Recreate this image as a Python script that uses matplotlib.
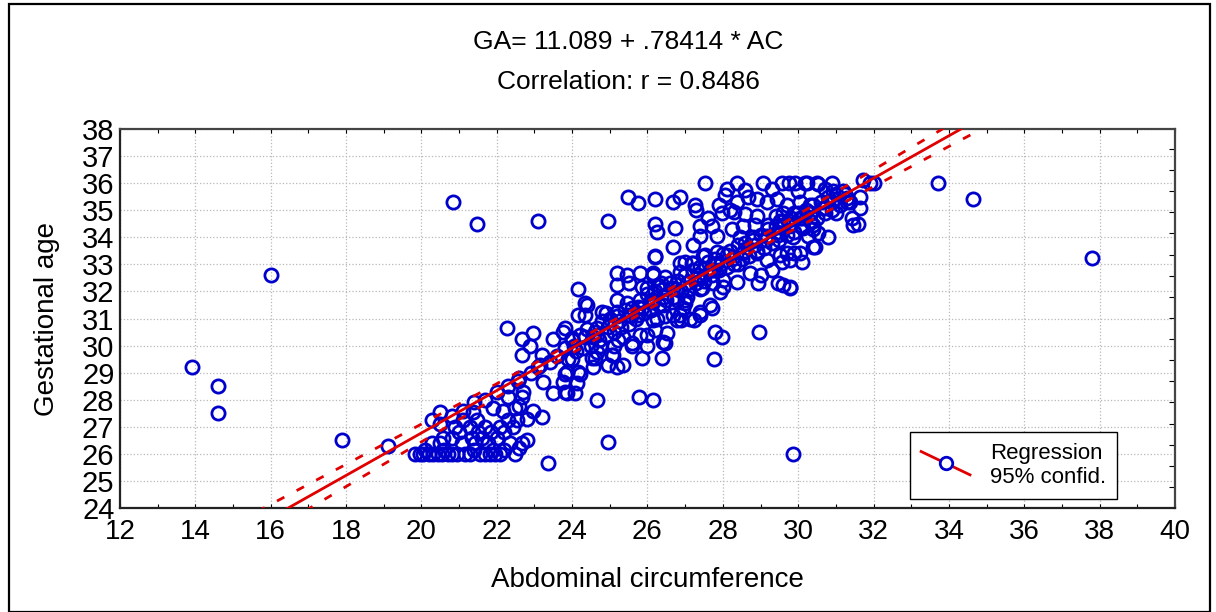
import numpy as np
import matplotlib
matplotlib.use("Agg")
import matplotlib.pyplot as plt
from matplotlib.lines import Line2D
from matplotlib.patches import Rectangle
from matplotlib.legend_handler import HandlerBase
from matplotlib.ticker import MultipleLocator, FixedLocator

plt.rcParams['font.family'] = ['Liberation Sans', 'DejaVu Sans']

# regression from the chart header
intercept = 11.089
slope = 0.78414
title_eq = "GA= 11.089 + .78414 * AC"
title_r = "Correlation: r = 0.8486"

# (AC, GA) pairs
outliers = [
    (13.9, 29.2), (14.6, 28.5), (14.6, 27.5), (16.0, 32.6), (17.9, 26.5), (19.1, 26.3),
    (20.84, 35.3), (21.47, 34.5), (23.1, 34.6), (24.95, 34.6),
    (33.7, 36.0), (34.64, 35.4), (37.8, 33.24), (29.86, 26.0), (23.36, 25.66), (24.95, 26.44),
    (28.96, 30.5), (24.66, 28.0), (25.77, 28.1), (26.15, 28.0), (27.77, 29.5), (27.8, 30.5),
    (27.97, 30.3),
]

low_cluster = [
    (19.83, 26.0), (19.95, 26.0), (20.04, 26.0), (20.2, 26.0), (20.31, 26.0), (20.45, 26.0),
    (20.55, 26.0), (20.7, 26.0), (20.81, 26.0), (20.95, 26.0), (21.16, 26.0), (21.3, 26.0),
    (21.55, 26.0), (21.68, 26.0), (21.82, 26.0), (21.95, 26.0), (22.08, 26.0), (22.48, 26.0),
    (20.1, 26.15), (20.6, 26.15), (21.4, 26.15), (21.9, 26.15), (22.2, 26.15), (22.6, 26.2),
    (20.28, 26.4), (20.49, 26.4), (21.08, 26.4), (21.42, 26.4), (21.77, 26.4), (22.35, 26.4),
    (22.67, 26.4), (22.8, 26.5),
    (20.57, 26.6), (20.81, 26.6), (21.34, 26.6), (21.61, 26.6), (22.0, 26.6),
    (21.0, 26.8), (21.5, 26.8), (21.85, 26.8), (22.2, 26.8),
    (20.89, 27.0), (21.29, 27.0), (21.69, 27.0), (22.08, 27.0), (22.43, 27.0),
    (20.28, 27.25), (21.1, 27.25), (21.47, 27.25), (22.3, 27.25), (22.8, 27.3), (22.53, 27.25),
    (20.49, 27.55), (21.37, 27.55), (22.16, 27.6), (22.48, 27.7), (22.96, 27.6), (23.2, 27.36),
    (21.9, 27.7), (22.6, 27.75), (22.3, 28.1), (22.67, 28.1), (22.7, 28.3), (22.56, 28.7),
]

mid_cluster = [
    (23.23, 28.65), (23.5, 28.25), (23.76, 28.65), (23.86, 29.02), (24.15, 29.02), (24.08, 28.25),
    (23.86, 28.25), (23.8, 28.3), (24.13, 28.6), (23.8, 28.95), (24.2, 28.95),
    (22.67, 30.24), (22.96, 30.46), (22.88, 30.0), (22.67, 29.65), (23.2, 29.65), (23.5, 30.24),
    (23.76, 30.5), (23.99, 30.28), (22.27, 30.65), (23.15, 29.3), (23.8, 30.65),
    (24.15, 32.1), (24.34, 31.57), (24.15, 31.13), (24.34, 31.13), (24.8, 31.24), (24.66, 30.65),
    (24.74, 30.0), (24.6, 29.54), (24.56, 29.2), (25.06, 29.65), (24.95, 29.28), (25.35, 29.28),
    (25.22, 30.2), (25.35, 30.3), (25.59, 30.0), (25.85, 29.54), (26.38, 29.54), (25.98, 30.0),
    (26.4, 30.13), (26.2, 30.58), (25.8, 30.4),
    (25.19, 32.68), (25.46, 32.6), (25.8, 32.68), (26.15, 32.68), (26.46, 32.53), (25.2, 32.24),
    (25.52, 32.3), (25.85, 32.16), (26.35, 32.3), (25.19, 31.68), (25.75, 31.42), (26.15, 31.68),
    (25.19, 31.24), (25.75, 31.13), (26.15, 30.95), (26.46, 31.1),
    (26.78, 31.68), (27.0, 31.68), (27.4, 32.1), (27.74, 32.3), (28.0, 32.16), (26.78, 30.95),
    (26.9, 30.95), (27.23, 30.95), (27.4, 31.13), (27.7, 31.4),
    (26.86, 33.05), (27.18, 33.05), (27.47, 33.3), (27.84, 33.05), (26.2, 33.27),
    (24.53, 29.54), (24.66, 29.76), (25.08, 29.65), (25.19, 29.2),
    (24.4, 31.5), (24.9, 31.2), (25.45, 31.57), (25.5, 31.13),
    (25.6, 30.1), (25.98, 30.39), (25.1, 30.0),
    (26.25, 31.0), (26.52, 30.46), (26.46, 30.1),
    (26.86, 31.13), (27.13, 31.0), (27.39, 31.24), (27.66, 31.5), (27.0, 31.57),
    (24.55, 30.3), (24.0, 29.5),
]

high_cluster = [
    (27.53, 36.0), (28.38, 36.0), (29.06, 36.0), (29.57, 36.0), (29.91, 36.0), (30.23, 36.0),
    (30.5, 36.0), (29.75, 36.0), (30.18, 36.0), (30.52, 35.95), (30.9, 36.0), (31.9, 36.0),
    (31.72, 36.1), (32.0, 36.0),
    (25.48, 35.5), (25.75, 35.27), (26.2, 35.4), (26.68, 35.3), (26.86, 35.5), (27.26, 35.2),
    (27.3, 35.0),
    (28.06, 35.55), (28.38, 35.3), (28.67, 35.5), (28.9, 35.4), (29.17, 35.3), (29.43, 35.4),
    (29.7, 35.2), (30.05, 35.3), (30.31, 35.2),
    (28.1, 35.8), (28.6, 35.75), (29.3, 35.8), (30.0, 35.7), (30.7, 35.8),
    (27.97, 34.9), (28.3, 34.95), (28.58, 34.85), (29.6, 34.9), (29.9, 34.9), (30.3, 34.9),
    (27.6, 34.7), (27.9, 35.2), (28.2, 35.0), (28.9, 34.8), (29.4, 34.8), (30.1, 34.7),
    (30.7, 35.1), (31.0, 34.9), (30.9, 35.3),
    (26.2, 34.5), (26.25, 34.2), (26.73, 34.35),
    (27.39, 34.4), (27.71, 34.4), (27.39, 34.05), (27.84, 34.05),
    (28.24, 34.3), (28.53, 34.4), (28.85, 34.45), (29.2, 34.45), (29.52, 34.6), (29.78, 34.5),
    (30.13, 34.35), (30.39, 34.3),
    (28.45, 34.0), (28.8, 33.9), (29.17, 34.05), (29.46, 34.1), (29.86, 34.0), (30.26, 34.05),
    (30.52, 34.15),
    (26.2, 33.3), (26.68, 33.64), (27.2, 33.7),
    (27.0, 33.09), (27.2, 33.05), (27.53, 33.35), (27.84, 33.46), (28.11, 33.35), (28.53, 33.42),
    (28.9, 33.42), (29.17, 33.16), (29.52, 33.35), (29.78, 33.16), (30.05, 33.42), (30.39, 33.64),
    (26.86, 32.72), (27.34, 32.6), (27.74, 32.8), (28.0, 32.42), (28.38, 32.34), (28.72, 32.68),
    (28.93, 32.3), (29.46, 32.3), (29.78, 32.16),
    (26.15, 32.6), (25.98, 32.12), (26.28, 32.24),
    (26.68, 32.12), (27.05, 31.8), (27.45, 32.12), (27.93, 31.98),
    (26.07, 31.6), (26.41, 31.5), (26.68, 31.13), (26.94, 31.4),
    (30.92, 35.7), (31.3, 35.45), (31.37, 35.3), (31.64, 35.1), (31.64, 35.5), (31.43, 34.7),
    (31.59, 34.5), (31.45, 34.45), (30.8, 34.0), (30.39, 34.45), (30.45, 33.64), (29.9, 33.42),
    (29.7, 33.42), (29.57, 33.09), (29.6, 32.24), (29.78, 32.12),
    (29.0, 32.6), (28.4, 33.0), (29.3, 32.8), (30.1, 33.1),
]

# markers stacked on top of the red line (mostly hidden under each other)
on_line = [
    (23.8, 29.9), (23.9, 29.5), (24.0, 30.2), (24.1, 29.8), (24.2, 30.4), (24.3, 29.9),
    (24.4, 30.6), (24.5, 30.0), (24.6, 30.5), (24.7, 30.2), (24.8, 30.9), (24.9, 30.4),
    (25.0, 31.0), (25.1, 30.5), (25.2, 31.1), (25.3, 30.7), (25.4, 31.3), (25.5, 30.8),
    (25.6, 31.4), (25.7, 31.0), (25.8, 31.7), (25.9, 31.2), (26.0, 31.9), (26.1, 31.3),
    (26.2, 32.0), (26.3, 31.5), (26.4, 32.1), (26.5, 31.7), (26.6, 32.3), (26.7, 31.8),
    (26.8, 32.4), (26.9, 32.0), (27.0, 32.6), (27.1, 32.1), (27.2, 32.8), (27.3, 32.3),
    (27.4, 32.9), (27.5, 32.4), (27.6, 33.1), (27.7, 32.6), (27.8, 33.2), (27.9, 32.8),
    (28.0, 33.4), (28.1, 32.9), (28.2, 33.5), (28.3, 33.0), (28.4, 33.7), (28.5, 33.2),
    (28.6, 33.8), (28.7, 33.3), (28.8, 34.0), (28.9, 33.5), (29.0, 34.1), (29.1, 33.6),
    (29.2, 34.3), (29.3, 33.8), (29.4, 34.4), (29.5, 33.9), (29.6, 34.6), (29.7, 34.1),
    (29.8, 34.7), (29.9, 34.2), (30.0, 34.9), (30.1, 34.4), (30.2, 35.0), (30.3, 34.6),
    (30.4, 35.2), (30.5, 34.7), (30.6, 35.3), (30.7, 34.9), (30.8, 35.5), (30.9, 35.0),
    (31.0, 35.6), (31.1, 35.2), (31.2, 35.7), (31.3, 35.3),
    (24.05, 30.0), (24.35, 30.3), (24.65, 30.4), (24.95, 30.7), (25.25, 30.9), (25.55, 31.1),
    (25.85, 31.4), (26.15, 31.6), (26.45, 31.8), (26.75, 32.1), (27.05, 32.3), (27.35, 32.5),
    (27.65, 32.8), (27.95, 33.0), (28.25, 33.2), (28.55, 33.5), (28.85, 33.7), (29.15, 33.9),
    (29.45, 34.2), (29.75, 34.4), (30.05, 34.7), (30.35, 34.9), (30.65, 35.1), (30.95, 35.4),
    (31.25, 35.6),
    (22.9, 29.0), (23.1, 29.2), (23.4, 29.4), (23.6, 29.6), (22.6, 28.8), (22.3, 28.5),
    (22.0, 28.3), (21.7, 28.0), (21.4, 27.9), (21.1, 27.6), (20.8, 27.4), (20.5, 27.1),
]

pts = np.array(outliers + low_cluster + mid_cluster + high_cluster + on_line)
ac, ga = pts[:, 0], pts[:, 1]

# 95% confidence band of the mean around the fitted line
n = len(ac)
resid = ga - (intercept + slope * ac)
s = np.sqrt(np.sum(resid ** 2) / (n - 2))
sxx = np.sum((ac - ac.mean()) ** 2)
xl = np.linspace(12, 40, 300)
yl = intercept + slope * xl
half = 1.97 * s * np.sqrt(1.0 / n + (xl - ac.mean()) ** 2 / sxx)

red = "#e00000"
blue = "#0000cc"

fig = plt.figure(figsize=(12.16, 6.12), dpi=100)
ax = fig.add_axes([120 / 1216, 1 - 508 / 612, (1175 - 120) / 1216, (508 - 129) / 612])

ax.plot(ac, ga, linestyle="none", marker="o", markersize=9.5, markerfacecolor="none",
        markeredgecolor=blue, markeredgewidth=2.0, zorder=3)
ax.plot(xl, yl, color=red, lw=2, zorder=4)
ax.plot(xl, yl + half, color=red, lw=2, linestyle=(0, (3, 5)), zorder=4)
ax.plot(xl, yl - half, color=red, lw=2, linestyle=(0, (3, 5)), zorder=4)

ax.set_xlim(12, 40)
ax.set_ylim(24, 38)
ax.xaxis.set_major_locator(MultipleLocator(2))
ax.xaxis.set_minor_locator(MultipleLocator(1))
ax.yaxis.set_major_locator(MultipleLocator(1))
ax.yaxis.set_minor_locator(FixedLocator(np.arange(24.78, 38, 0.78)))
ax.grid(True, which="major", color="#b8b8b8", linestyle=":", linewidth=0.9)
ax.set_axisbelow(True)

ax.tick_params(axis="x", which="both", direction="in", top=True, bottom=True, length=3,
               width=0.8, labelsize=20, pad=8)
ax.tick_params(axis="y", which="major", direction="in", left=False, right=False, labelsize=21, pad=4)
ax.tick_params(axis="y", which="minor", direction="in", left=False, right=True, length=4, width=0.8)

for side in ["left", "bottom"]:
    ax.spines[side].set_linewidth(1.6)
    ax.spines[side].set_color("#222222")
for side in ["top", "right"]:
    ax.spines[side].set_linewidth(1.6)
    ax.spines[side].set_color("#444444")

ax.set_xlabel("Abdominal circumference", fontsize=20, labelpad=16)
ax.set_ylabel("Gestational age", fontsize=20, labelpad=16)

fig.text(628 / 1216, 1 - 42 / 612, title_eq, ha="center", va="center", fontsize=19)
fig.text(628 / 1216, 1 - 82 / 612, title_r, ha="center", va="center", fontsize=19)


# legend symbol: slanted red line with an open blue marker
class DiagHandler(HandlerBase):
    def create_artists(self, legend, orig, xd, yd, width, height, fontsize, trans):
        x0, x1 = -xd, -xd + width
        y0, y1 = -yd + height * 1.4, -yd - height * 0.1
        ln = Line2D([x0, x1], [y0, y1], color=red, lw=2, transform=trans)
        mk = Line2D([(x0 + x1) / 2], [(y0 + y1) / 2], marker="o", markersize=9,
                    markerfacecolor="white", markeredgecolor=blue, markeredgewidth=2.0,
                    linestyle="none", transform=trans)
        return [ln, mk]


handle = Line2D([0], [0], color=red)
leg = ax.legend([handle], ["Regression\n95% confid."], handler_map={Line2D: DiagHandler()},
                loc="lower left", bbox_to_anchor=((910 - 120) / 1055, (508 - 499) / 379),
                fontsize=16, frameon=True, fancybox=False, framealpha=1,
                borderpad=0.5, handlelength=2.2, handletextpad=0.9, labelspacing=0.1,
                borderaxespad=0)
leg.get_frame().set_edgecolor("black")
leg.get_frame().set_linewidth(1.0)

# outer frame of the picture
fig.patches.append(Rectangle((9 / 1216, 0), (1210 - 9) / 1216, 1 - 4 / 612, transform=fig.transFigure,
                             fill=False, edgecolor="black", linewidth=1.6))

fig.savefig("out.png", dpi=100)
